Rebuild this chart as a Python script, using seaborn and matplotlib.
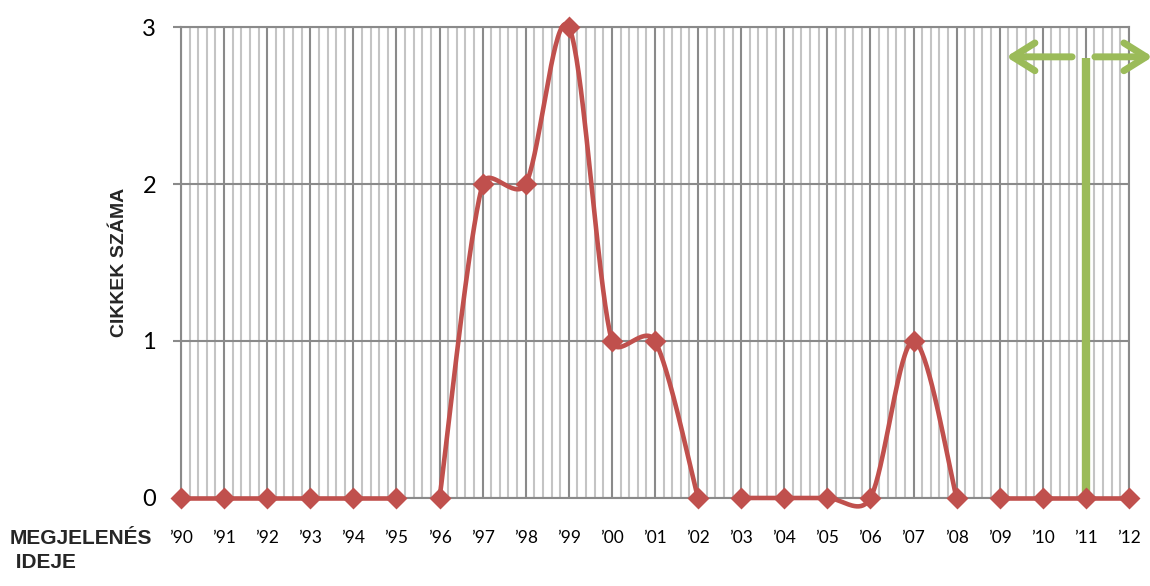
import numpy as np
import pandas as pd
import matplotlib
matplotlib.use('Agg')
import matplotlib.pyplot as plt
import seaborn as sns
from matplotlib.ticker import MultipleLocator

# Data: number of articles per publication year
years = ['’90', '’91', '’92', '’93', '’94', '’95', '’96', '’97', '’98', '’99', '’00', '’01',
         '’02', '’03', '’04', '’05', '’06', '’07', '’08', '’09', '’10', '’11', '’12']
counts = [0, 0, 0, 0, 0, 0, 0, 2, 2, 3, 1, 1, 0, 0, 0, 0, 0, 1, 0, 0, 0, 0, 0]
# the line is broken after '95, '02 and '08
segments = [0] * 6 + [1] * 7 + [2] * 6 + [3] * 4
y_ticks = [0, 1, 2, 3]
marker_year = '’11'  # green "now" marker

red = '#C0504D'
green = '#9BBB59'
grid_dark = '#8a8a8a'
grid_light = '#c4c4c4'

sns.set_theme(style='white')
plt.rcParams['font.family'] = ['Lato', 'DejaVu Sans']

df = pd.DataFrame({'year': years, 'count': counts, 'segment': segments})
df['pos'] = np.arange(len(df))

# pixel size of one x / y unit, the smoothing works in screen space like Excel
px_scale = np.array([43.1, 157.0])


def smooth(x, y, n=40):
    # Excel style smoothed line: Bezier pieces, arms 1/6 of neighbour chord,
    # limited to half of the segment length
    p = np.column_stack([x, y]).astype(float)
    m = len(p)
    t = np.linspace(0, 1, n)[:, None]
    dist = lambda a, b: np.linalg.norm((b - a) * px_scale)
    out = []
    for i in range(m - 1):
        p0 = p[max(i - 1, 0)]
        p1, p2 = p[i], p[i + 1]
        p3 = p[min(i + 2, m - 1)]
        d12 = dist(p1, p2)
        d02 = dist(p0, p2)
        d13 = dist(p1, p3)
        f1 = 1 / 6 if d02 / 6 < d12 / 2 else d12 / (2 * d02)
        f2 = 1 / 6 if d13 / 6 < d12 / 2 else d12 / (2 * d13)
        b1 = p1 + (p2 - p0) * f1
        b2 = p2 - (p3 - p1) * f2
        seg = ((1 - t) ** 3) * p1 + 3 * ((1 - t) ** 2) * t * b1 + 3 * (1 - t) * t ** 2 * b2 + t ** 3 * p2
        out.append(seg if i == 0 else seg[1:])
    return np.vstack(out)


curves = []
for seg_id, g in df.groupby('segment'):
    c = smooth(g['pos'].values, g['count'].values)
    curves.append(pd.DataFrame({'x': c[:, 0], 'y': c[:, 1], 'segment': seg_id}))
curve_df = pd.concat(curves, ignore_index=True)

fig = plt.figure(figsize=(11.5, 5.86), dpi=100)
ax = fig.add_axes([0.1574, 0.1502, 0.8243, 0.8037])

sns.lineplot(data=curve_df, x='x', y='y', units='segment', estimator=None, sort=False,
             color=red, linewidth=3.3, ax=ax, zorder=4)
for line in ax.lines:
    line.set_clip_on(False)
    line.set_solid_capstyle('butt')

# green vertical marker with arrows
x_now = years.index(marker_year)
arrow_y = 2.81
ax.vlines(x_now, 0, 2.8, color=green, linewidth=6, zorder=3)
arrow = dict(arrowstyle='->,head_length=0.8,head_width=0.5', lw=5, color=green,
             shrinkA=0, shrinkB=0, mutation_scale=20)
ax.annotate('', xy=(x_now - 1.85, arrow_y), xytext=(x_now - 0.32, arrow_y),
            arrowprops=arrow, annotation_clip=False)
ax.annotate('', xy=(x_now + 1.55, arrow_y), xytext=(x_now + 0.21, arrow_y),
            arrowprops=arrow, annotation_clip=False)

sns.scatterplot(data=df, x='pos', y='count', marker='D', s=125, color=red,
                linewidth=0, ax=ax, zorder=5, clip_on=False)

ax.set_xlim(0, len(years) - 1)
ax.set_ylim(0, 3)
ax.set_xticks(df['pos'])
ax.set_xticklabels(years)
ax.xaxis.set_minor_locator(MultipleLocator(0.2))
ax.set_yticks(y_ticks)
ax.set_yticklabels([str(v) for v in y_ticks])

ax.set_axisbelow(True)
ax.grid(which='major', axis='x', color=grid_dark, linewidth=1.5)
ax.grid(which='minor', axis='x', color=grid_light, linewidth=1.5)
ax.grid(which='major', axis='y', color=grid_dark, linewidth=1.5)
for s in ax.spines.values():
    s.set_color(grid_dark)
    s.set_linewidth(1.5)

ax.tick_params(axis='x', which='both', length=0, pad=23, labelsize=12.5, colors='black')
ax.tick_params(axis='y', which='major', left=True, length=6, width=1.5, color=grid_dark,
               pad=12, labelsize=17, labelcolor='black', direction='out')
ax.set_xlabel('')
ax.set_ylabel('')

fig.text(120 / 1150, 1 - 262 / 586, 'CIKKEK SZÁMA', rotation=90, ha='center', va='center',
         fontsize=14, fontweight='bold', family=['Liberation Sans', 'DejaVu Sans'])
fig.text(10 / 1150, 1 - 529 / 586, 'MEGJELENÉS\n IDEJE', ha='left', va='top',
         fontsize=15, fontweight='bold', linespacing=1.35,
         family=['Liberation Sans', 'DejaVu Sans'])

fig.savefig('out.png', dpi=100)
